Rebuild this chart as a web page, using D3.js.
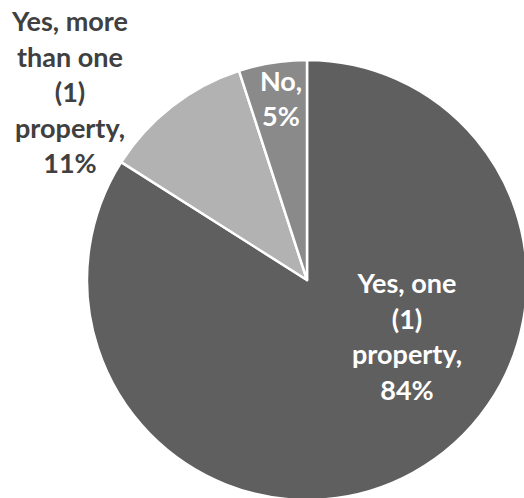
<!DOCTYPE html>
<html>
<head>
<meta charset="utf-8">
<script src="https://cdn.jsdelivr.net/npm/d3@7"></script>
<style>
  body { margin: 0; background: #fff; }
  svg { display: block; }
</style>
</head>
<body>
<div id="chart"></div>
<script>
"use strict";

// data
var categories = ["Yes, one (1) property", "Yes, more than one (1) property", "No"];
var values = [84, 11, 5];
var labelLines = [
  ["Yes, one", "(1)", "property,", "84%"],
  ["Yes, more", "than one", "(1)", "property,", "11%"],
  ["No,", "5%"]
];
var colors = ["#5f5f5f", "#b2b2b2", "#8a8a8a"];
var textColors = ["#ffffff", "#404040", "#ffffff"];

// layout
var width = 524, height = 498;
var cx = 307, cy = 280, radius = 220;
var lineH = 35.5;
// label block centre, relative to pie centre
var labelOffset = [[100, 57], [-237, -187], [-26, -181]];

var svg = d3.select("#chart")
  .append("svg")
  .attr("width", width)
  .attr("height", height);

var g = svg.append("g")
  .attr("transform", "translate(" + cx + "," + cy + ")");

var pie = d3.pie().sort(null).value(function (d) { return d; });
var arc = d3.arc().innerRadius(0).outerRadius(radius);

var arcs = pie(values);

g.selectAll("path")
  .data(arcs)
  .enter()
  .append("path")
  .attr("d", arc)
  .attr("fill", function (d, i) { return colors[i]; })
  .attr("stroke", "#fff")
  .attr("stroke-width", 2.5)
  .attr("stroke-linejoin", "round");

// labels
var labels = g.selectAll("text.lbl")
  .data(arcs)
  .enter()
  .append("text")
  .attr("class", "lbl")
  .attr("text-anchor", "middle")
  .attr("font-family", "Lato, 'Open Sans', sans-serif")
  .attr("font-weight", "bold")
  .attr("font-size", 27)
  .attr("fill", function (d, i) { return textColors[i]; });

labels.each(function (d, i) {
  var lines = labelLines[i];
  var x = labelOffset[i][0];
  var top = labelOffset[i][1] - (lines.length - 1) * lineH / 2;
  d3.select(this).selectAll("tspan")
    .data(lines)
    .enter()
    .append("tspan")
    .attr("x", x)
    .attr("y", function (t, k) { return top + k * lineH; })
    .attr("dy", "0.35em")
    .text(function (t) { return t; });
});
</script>
</body>
</html>
